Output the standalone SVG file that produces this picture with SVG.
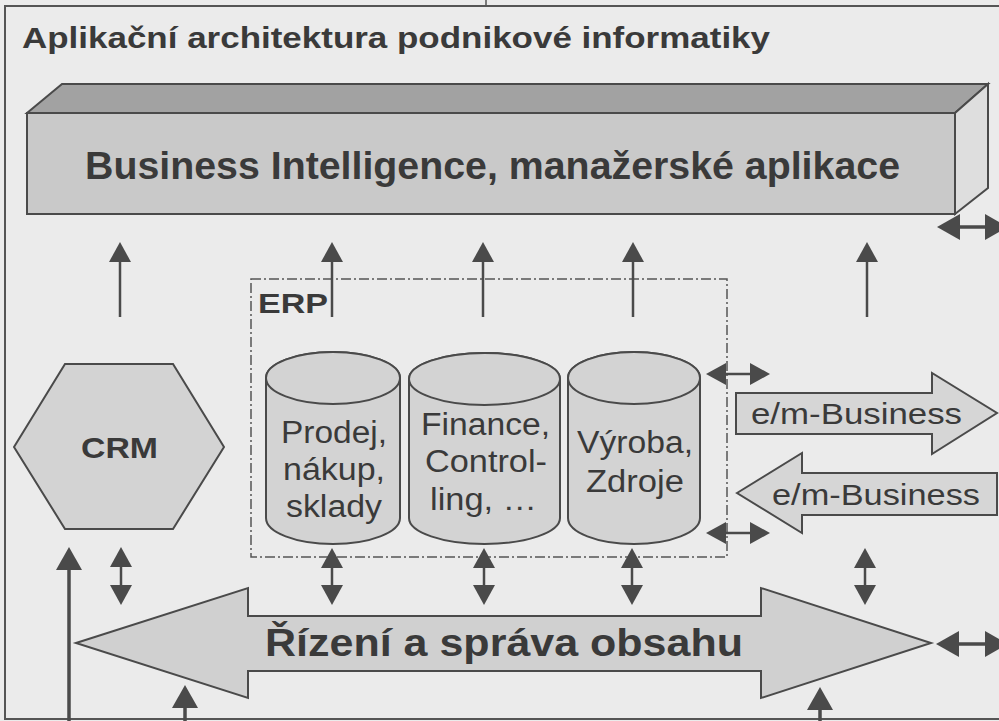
<svg xmlns="http://www.w3.org/2000/svg" width="999" height="721" viewBox="0 0 999 721">
<style>
  .txt{font-family:"Liberation Sans",Arial,Helvetica,sans-serif;fill:#3a3a3a}
  .b{font-weight:bold}
  .shape{stroke:#4a4a4a;stroke-width:2;stroke-linejoin:miter}
  .cyl{fill:#d3d3d3;stroke:#4a4a4a;stroke-width:2}
  .con{stroke:#4a4a4a;stroke-width:2.5;fill:none}
  .conBig{stroke:#4a4a4a;stroke-width:3.5;fill:none}
</style>
<defs>
  <marker id="ah" markerUnits="userSpaceOnUse" markerWidth="20" markerHeight="22" refX="0" refY="11" orient="auto-start-reverse" viewBox="0 0 20 22">
    <path d="M0,0 L20,11 L0,22 z" fill="#4a4a4a"/>
  </marker>
  <marker id="ahBig" markerUnits="userSpaceOnUse" markerWidth="23" markerHeight="26" refX="0" refY="13" orient="auto-start-reverse" viewBox="0 0 23 26">
    <path d="M0,0 L23,13 L0,26 z" fill="#4a4a4a"/>
  </marker>
</defs>

<rect x="0" y="0" width="999" height="721" fill="#ebebeb"/>

<g id="frame">
  <rect x="5" y="6" width="1010" height="713" fill="none" stroke="#555" stroke-width="2"/>
  <line x1="486" y1="0" x2="486" y2="6" stroke="#555" stroke-width="1.5"/>
  <text class="txt b" x="22" y="48" font-size="30" textLength="748" lengthAdjust="spacingAndGlyphs">Aplikační architektura podnikové informatiky</text>
</g>

<g id="bi">
  <polygon class="shape" points="27,113 62,84 988,84 955,113" fill="#a2a2a2"/>
  <polygon class="shape" points="955,113 988,84 988,188 955,214" fill="#dedede"/>
  <rect class="shape" x="27" y="113" width="928" height="101" fill="#c9c9c9"/>
  <text class="txt b" x="85" y="179" font-size="38" textLength="815" lengthAdjust="spacingAndGlyphs">Business Intelligence, manažerské aplikace</text>
</g>

<g id="erp">
  <rect x="251" y="279" width="476" height="278" fill="none" stroke="#555" stroke-width="1.5" stroke-dasharray="10,3,2,3"/>
  <text class="txt b" x="258" y="313" font-size="28" textLength="70" lengthAdjust="spacingAndGlyphs">ERP</text>
</g>

<g id="crm">
  <polygon class="shape" points="14,447 65,364 173,364 224,447 173,529 65,529" fill="#d3d3d3"/>
  <text class="txt b" x="81" y="458" font-size="30" textLength="77" lengthAdjust="spacingAndGlyphs">CRM</text>
</g>

<g id="cyl-prodej">
  <path class="cyl" d="M266,378 V518 A67,26 0 0 0 400,518 V378 A67,26 0 0 0 266,378 z"/>
  <ellipse class="cyl" cx="333" cy="378" rx="67" ry="26"/>
  <text class="txt" x="281" y="443" font-size="31" textLength="106" lengthAdjust="spacingAndGlyphs">Prodej,</text>
  <text class="txt" x="283" y="480" font-size="31" textLength="102" lengthAdjust="spacingAndGlyphs">nákup,</text>
  <text class="txt" x="286" y="517" font-size="31" textLength="96" lengthAdjust="spacingAndGlyphs">sklady</text>
</g>

<g id="cyl-finance">
  <path class="cyl" d="M409,379 V518 A75.5,26 0 0 0 560,518 V379 A75.5,26 0 0 0 409,379 z"/>
  <ellipse class="cyl" cx="484.5" cy="379" rx="75.5" ry="26"/>
  <text class="txt" x="421" y="435" font-size="31" textLength="129" lengthAdjust="spacingAndGlyphs">Finance,</text>
  <text class="txt" x="425" y="472" font-size="31" textLength="122" lengthAdjust="spacingAndGlyphs">Control-</text>
  <text class="txt" x="430" y="510" font-size="31" textLength="107" lengthAdjust="spacingAndGlyphs">ling, …</text>
</g>

<g id="cyl-vyroba">
  <path class="cyl" d="M568,378 V518 A66,26 0 0 0 700,518 V378 A66,26 0 0 0 568,378 z"/>
  <ellipse class="cyl" cx="634" cy="378" rx="66" ry="26"/>
  <text class="txt" x="577" y="453" font-size="31" textLength="116" lengthAdjust="spacingAndGlyphs">Výroba,</text>
  <text class="txt" x="586" y="492" font-size="31" textLength="98" lengthAdjust="spacingAndGlyphs">Zdroje</text>
</g>

<g id="ebusiness-out">
  <polygon class="shape" points="736,393 932,393 932,373 997,413 932,454 932,434 736,434" fill="#d6d6d6"/>
  <text class="txt" x="751" y="424" font-size="30" textLength="211" lengthAdjust="spacingAndGlyphs">e/m-Business</text>
</g>

<g id="ebusiness-in">
  <polygon class="shape" points="737,493 802,453 802,473 997,473 997,515 802,515 802,533" fill="#d6d6d6"/>
  <text class="txt" x="772" y="505" font-size="30" textLength="208" lengthAdjust="spacingAndGlyphs">e/m-Business</text>
</g>

<g id="obsah">
  <polygon class="shape" points="76,643 248,588 248,616 761,616 761,588 931,643 761,698 761,671 248,671 248,698" fill="#d0d0d0"/>
  <text class="txt b" x="265" y="656" font-size="39" textLength="478" lengthAdjust="spacingAndGlyphs">Řízení a správa obsahu</text>
</g>

<g id="connectors">
  <line class="con" x1="120" y1="317" x2="120" y2="262" marker-end="url(#ah)"/>
  <line class="con" x1="332" y1="317" x2="332" y2="262" marker-end="url(#ah)"/>
  <line class="con" x1="483" y1="317" x2="483" y2="262" marker-end="url(#ah)"/>
  <line class="con" x1="633" y1="317" x2="633" y2="262" marker-end="url(#ah)"/>
  <line class="con" x1="867" y1="317" x2="867" y2="262" marker-end="url(#ah)"/>
  <line class="con" x1="121" y1="567" x2="121" y2="585" marker-start="url(#ah)" marker-end="url(#ah)"/>
  <line class="con" x1="332" y1="568" x2="332" y2="585" marker-start="url(#ah)" marker-end="url(#ah)"/>
  <line class="con" x1="484" y1="568" x2="484" y2="585" marker-start="url(#ah)" marker-end="url(#ah)"/>
  <line class="con" x1="632" y1="568" x2="632" y2="585" marker-start="url(#ah)" marker-end="url(#ah)"/>
  <line class="con" x1="865" y1="568" x2="865" y2="585" marker-start="url(#ah)" marker-end="url(#ah)"/>
  <line class="con" x1="726" y1="374" x2="750" y2="374" marker-start="url(#ah)" marker-end="url(#ah)"/>
  <line class="con" x1="726" y1="533" x2="750" y2="533" marker-start="url(#ah)" marker-end="url(#ah)"/>
  <line class="conBig" x1="960" y1="227" x2="985" y2="227" marker-start="url(#ahBig)" marker-end="url(#ahBig)"/>
  <line class="conBig" x1="959" y1="644" x2="985" y2="644" marker-start="url(#ahBig)" marker-end="url(#ahBig)"/>
  <line class="conBig" x1="69" y1="725" x2="69" y2="570" marker-end="url(#ahBig)"/>
  <line class="conBig" x1="185" y1="725" x2="185" y2="708" marker-end="url(#ahBig)"/>
  <line class="conBig" x1="820" y1="725" x2="820" y2="710" marker-end="url(#ahBig)"/>
</g>
</svg>
